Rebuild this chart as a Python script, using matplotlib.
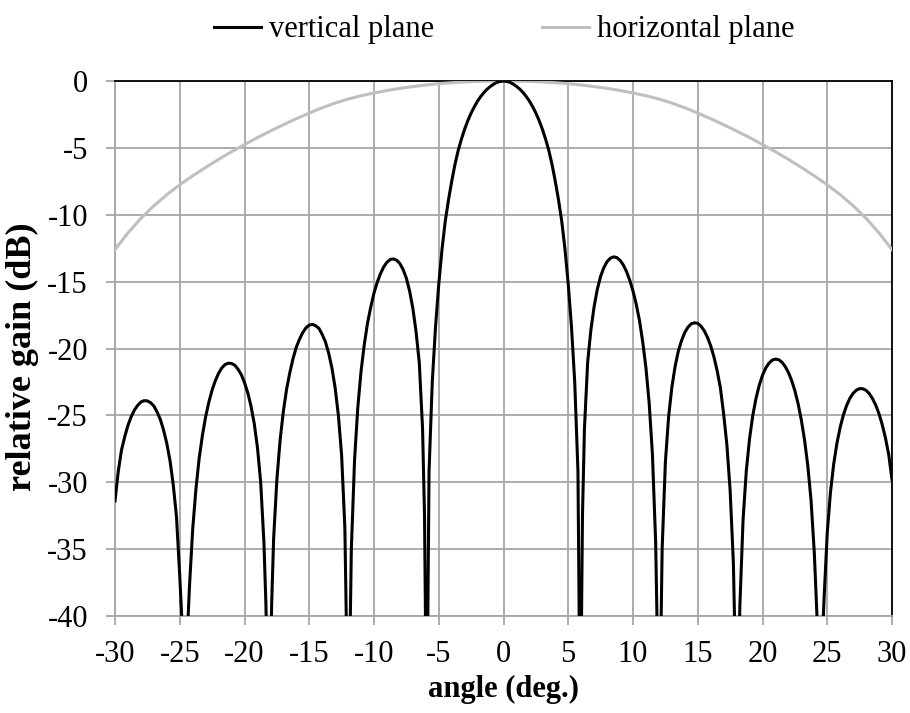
import matplotlib
matplotlib.use("Agg")
import matplotlib.pyplot as plt

# Vertical-plane pattern: angle (deg.) and relative gain (dB).
# Points at the nulls sit below the -40 dB floor and are clipped by the axes.
vp_angle = [
    # outer lobe, left
    -30, -29.75, -29.5, -29.25, -29, -28.75, -28.5, -28.25, -28, -27.75, -27.5, -27.25,
    -27, -26.75, -26.5, -26.25, -26, -25.75, -25.5, -25.25, -25, -24.85, -24.6,
    # third lobe, left
    -24.35, -24.25, -24, -23.75, -23.5, -23.25, -23, -22.75, -22.5, -22.25, -22, -21.75,
    -21.5, -21.25, -21, -20.75, -20.5, -20.25, -20, -19.75, -19.5, -19.25, -19, -18.75,
    -18.5, -18.35, -18.1,
    # second lobe, left
    -17.9, -17.75, -17.5, -17.25, -17, -16.75, -16.5, -16.25, -16, -15.75, -15.5, -15.25,
    -15, -14.75, -14.5, -14.25, -14, -13.75, -13.5, -13.25, -13, -12.75, -12.5, -12.25,
    -11.98,
    # first lobe, left
    -11.75, -11.5, -11.25, -11, -10.75, -10.5, -10.25, -10, -9.75, -9.5, -9.25, -9,
    -8.75, -8.5, -8.25, -8, -7.75, -7.5, -7.25, -7, -6.75, -6.5, -6.25, -6.1, -5.93,
    # main lobe
    -5.75, -5.5, -5.25, -5, -4.75, -4.5, -4.25, -4, -3.75, -3.5, -3.25, -3, -2.75, -2.5,
    -2.25, -2, -1.75, -1.5, -1.25, -1, -0.75, -0.5, -0.25, 0,
    0.25, 0.5, 0.75, 1, 1.25, 1.5, 1.75, 2, 2.25, 2.5, 2.75, 3, 3.25, 3.5, 3.75, 4,
    4.25, 4.5, 4.75, 5, 5.25, 5.5, 5.75, 5.93,
    # first lobe, right
    6.1, 6.25, 6.5, 6.75, 7, 7.25, 7.5, 7.75, 8, 8.25, 8.5, 8.75, 9, 9.25, 9.5, 9.75,
    10, 10.25, 10.5, 10.75, 11, 11.25, 11.5, 11.75, 12.03,
    # second lobe, right
    12.25, 12.5, 12.75, 13, 13.25, 13.5, 13.75, 14, 14.25, 14.5, 14.75, 15, 15.25, 15.5,
    15.75, 16, 16.25, 16.5, 16.75, 17, 17.25, 17.5, 17.75, 18.05,
    # third lobe, right
    18.25, 18.5, 18.75, 19, 19.25, 19.5, 19.75, 20, 20.25, 20.5, 20.75, 21, 21.25, 21.5,
    21.75, 22, 22.25, 22.5, 22.75, 23, 23.25, 23.5, 23.75, 24, 24.25, 24.45,
    # outer lobe, right
    24.7, 24.75, 25, 25.25, 25.5, 25.75, 26, 26.25, 26.5, 26.75, 27, 27.25, 27.5, 27.75,
    28, 28.25, 28.5, 28.75, 29, 29.25, 29.5, 29.75, 30,
]
vp_gain = [
    -31.4, -29.2, -27.6, -26.6, -25.75, -25.1, -24.6, -24.25, -24.0, -23.9, -23.92, -24.05,
    -24.3, -24.75, -25.3, -26.1, -27.1, -28.4, -30.2, -32.6, -37.0, -40.0, -50,
    -40.0, -37.8, -33.5, -30.5, -28.2, -26.5, -25.1, -24.0, -23.1, -22.4, -21.85, -21.45,
    -21.2, -21.1, -21.12, -21.25, -21.55, -21.95, -22.55, -23.3, -24.3, -25.6, -27.4, -30.0,
    -34.5, -39.0, -50,
    -39.0, -34.2, -29.8, -26.85, -24.7, -23.05, -21.8, -20.75, -19.9, -19.3, -18.8, -18.45,
    -18.25, -18.2, -18.3, -18.5, -18.95, -19.5, -20.35, -21.45, -22.95, -25.0, -28.0, -33.4,
    -50,
    -35.0, -28.3, -24.4, -21.7, -19.7, -18.1, -16.9, -15.85, -15.05, -14.4, -13.9, -13.55,
    -13.35, -13.3, -13.4, -13.65, -14.1, -14.75, -15.7, -17.0, -18.75, -21.1, -26.0, -32.4, -50,
    -29.2, -22.5, -18.4, -15.2, -12.6, -10.5, -8.9, -7.5, -6.25, -5.2, -4.35, -3.6, -2.95, -2.4,
    -1.92, -1.5, -1.15, -0.85, -0.6, -0.4, -0.23, -0.1, -0.03, 0.0,
    -0.03, -0.1, -0.23, -0.4, -0.6, -0.85, -1.15, -1.5, -1.92, -2.4, -2.95, -3.6, -4.35, -5.2,
    -6.25, -7.5, -8.9, -10.5, -12.6, -15.2, -18.4, -22.5, -29.2, -50,
    -32.4, -26.0, -21.0, -18.6, -16.85, -15.55, -14.6, -13.95, -13.5, -13.25, -13.15, -13.2,
    -13.4, -13.75, -14.25, -14.9, -15.7, -16.7, -17.9, -19.5, -21.45, -24.1, -27.9, -34.5, -50,
    -35.0, -28.5, -25.1, -22.9, -21.35, -20.2, -19.4, -18.8, -18.4, -18.15, -18.08, -18.12,
    -18.33, -18.67, -19.16, -19.8, -20.63, -21.67, -22.95, -24.9, -27.2, -30.6, -36.0, -50,
    -39.3, -32.8, -29.14, -26.74, -25.01, -23.72, -22.74, -22.0, -21.46, -21.09, -20.87, -20.79,
    -20.84, -21.02, -21.34, -21.79, -22.39, -23.16, -24.13, -25.35, -26.86, -28.78, -31.36,
    -35.26, -41.0, -50,
    -40.0, -38.8, -33.77, -30.73, -28.63, -27.07, -25.88, -24.96, -24.25, -23.72, -23.35, -23.11,
    -23.0, -23.01, -23.13, -23.38, -23.75, -24.25, -24.89, -25.71, -26.71, -27.95, -29.8,
]

# Horizontal-plane pattern, one point per degree
hp_angle = list(range(-30, 31))
hp_gain = [
    -12.6, -11.36, -10.27, -9.33, -8.5, -7.76, -7.09, -6.46, -5.86, -5.29,
    -4.75, -4.23, -3.74, -3.27, -2.82, -2.4, -2.0, -1.65, -1.35, -1.1,
    -0.9, -0.71, -0.55, -0.42, -0.3, -0.2, -0.13, -0.07, -0.03, -0.01,
    0.0,
    -0.01, -0.03, -0.07, -0.13, -0.2, -0.3, -0.42, -0.55, -0.71, -0.9,
    -1.1, -1.35, -1.65, -2.0, -2.4, -2.82, -3.27, -3.74, -4.23, -4.75,
    -5.29, -5.86, -6.46, -7.09, -7.76, -8.5, -9.33, -10.27, -11.36, -12.6,
]

x_ticks = list(range(-30, 31, 5))
y_ticks = list(range(-40, 1, 5))

plt.rcParams["font.family"] = ["Liberation Serif", "DejaVu Serif"]
plt.rcParams["axes.unicode_minus"] = False

GRID = "#A6A6A6"
FS = 22

fig = plt.figure(figsize=(9.10, 7.13), dpi=100)
ax = fig.add_axes([115 / 910, 1 - 616 / 713, 777 / 910, 535 / 713])

ax.plot(hp_angle, hp_gain, color="#BFBFBF", lw=2.2, zorder=3,
        solid_joinstyle="round", label="horizontal plane")
ax.plot(vp_angle, vp_gain, color="black", lw=2.2, zorder=4,
        solid_joinstyle="round", label="vertical plane")

ax.set_xlim(-30, 30)
ax.set_ylim(-40, 0)
ax.set_xticks(x_ticks)
ax.set_yticks(y_ticks)
ax.grid(True, color=GRID, lw=1.3)
ax.set_axisbelow(True)

for side in ("left", "bottom"):
    ax.spines[side].set_color(GRID)
    ax.spines[side].set_linewidth(1.3)
for side in ("top", "right"):
    ax.spines[side].set_color("black")
    ax.spines[side].set_linewidth(1.3)

ax.tick_params(axis="both", direction="out", length=6.5, width=1.3, color=GRID,
               labelsize=FS, labelcolor="black")
ax.tick_params(axis="x", pad=11)
ax.tick_params(axis="y", pad=13)

fig.text(504 / 910, 1 - 689 / 713, "angle (deg.)", ha="center", va="center",
         fontsize=FS, fontweight="bold")
fig.text(22 / 910, 1 - 357 / 713, "relative gain (dB)", ha="center", va="center",
         rotation=90, fontsize=26, fontweight="bold")

handles, labels = ax.get_legend_handles_labels()
order = [1, 0]
fig.legend([handles[i] for i in order], [labels[i] for i in order],
           loc="center", bbox_to_anchor=(504.5 / 910, 1 - 30 / 713), ncol=2,
           frameon=False, fontsize=FS, handlelength=1.54, handletextpad=0.26,
           columnspacing=3.53, borderpad=0.0)

fig.savefig("out.png", dpi=100)
